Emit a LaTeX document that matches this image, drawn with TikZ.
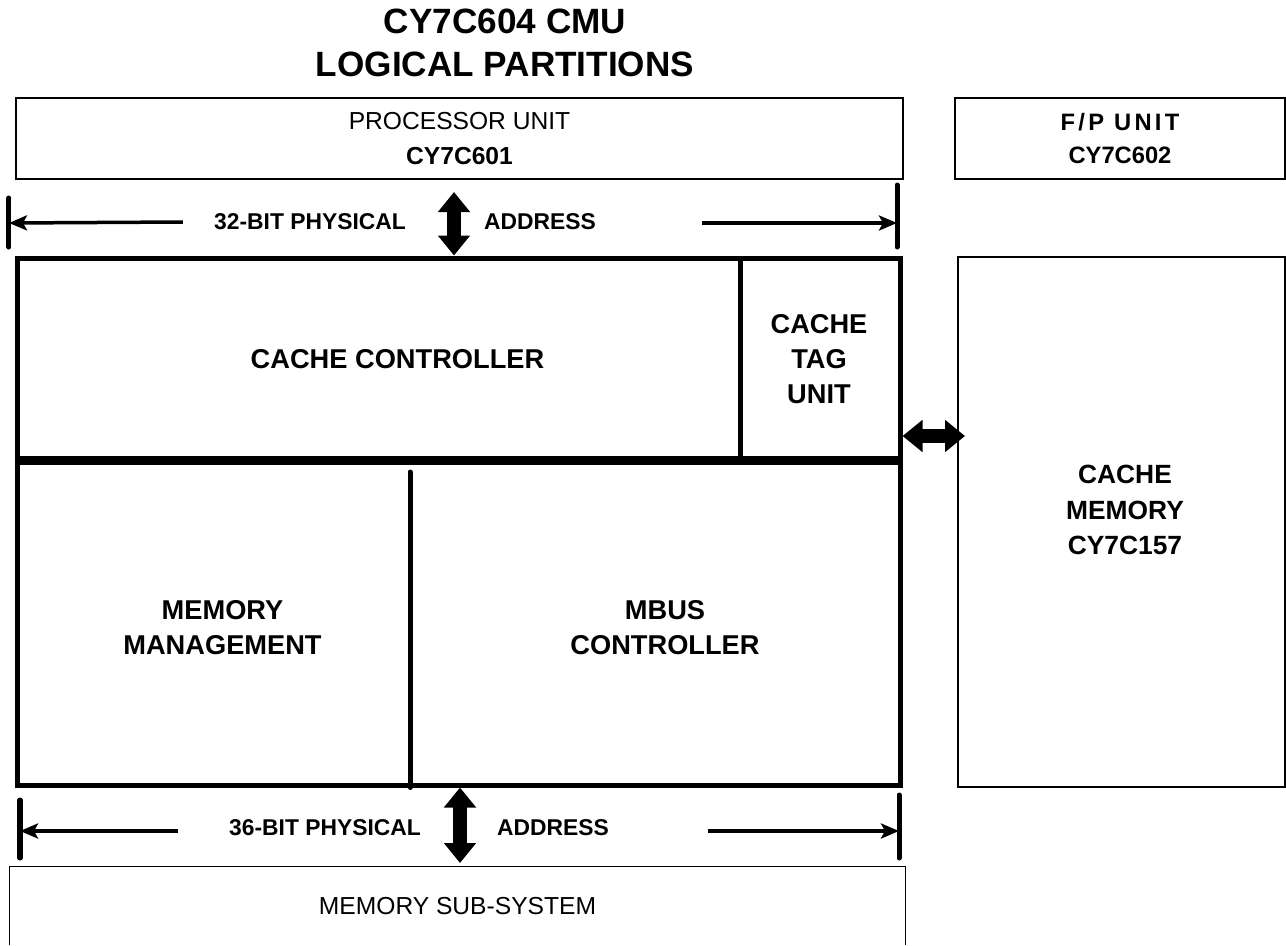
\documentclass[tikz,border=0pt]{standalone}
\usepackage{fontspec}
\setmainfont{Liberation Sans}
\newfontfamily\spacedfont{Liberation Sans}[LetterSpace=14]
\usetikzlibrary{arrows.meta}

\begin{document}
\begin{tikzpicture}[
  thinbox/.style={draw, line width=0.8pt, inner sep=0pt, align=center},
  cmubox/.style={draw, line width=0.1cm, inner sep=0pt, minimum width=17.64cm, minimum height=10.54cm},
  part/.style={align=center, font=\fontsize{15.5}{20}\selectfont\bfseries},
  titletext/.style={font=\fontsize{20}{24}\selectfont\bfseries},
  buslabel/.style={font=\fontsize{13}{15}\selectfont\bfseries},
  addr/.style={-{Stealth[length=0.36cm,width=0.3cm,inset=0.08cm]}, line width=0.07cm},
  tickline/.style={line width=0.1cm, line cap=round},
  bus/.style={{Triangle[width=0.62cm,length=0.4cm]}-{Triangle[width=0.62cm,length=0.4cm]}, line width=0.27cm},
  divider/.style={line width=0.1cm},
  hdivider/.style={line width=0.18cm}
]
\useasboundingbox (0,0) rectangle (25.72,-18.9);
% title
\node[titletext] (title) at (10.1,-0.42) {CY7C604 CMU};
\node[titletext] (subtitle) at (10.1,-1.28) {LOGICAL PARTITIONS};
% outer units
\node[thinbox, minimum width=17.74cm, minimum height=1.62cm, font=\fontsize{14}{20}\selectfont] (cpu) at (9.19,-2.77) {PROCESSOR UNIT\\\textbf{CY7C601}};
\node[thinbox, minimum width=6.6cm, minimum height=1.62cm, font=\fontsize{13.5}{19}\selectfont\bfseries] (fpu) at (22.4,-2.77) {{\spacedfont F/P UNIT}\\CY7C602};
\node[thinbox, minimum width=6.54cm, minimum height=10.6cm] (cache) at (22.43,-10.44) {};
\node[part, font=\fontsize{15}{20}\selectfont\bfseries] (cachetext) at (22.5,-10.2) {CACHE\\MEMORY\\CY7C157};
\node[minimum width=17.9cm, minimum height=1.56cm, inner sep=0pt, font=\fontsize{14}{17}\selectfont] (mem) at (9.15,-18.12) {MEMORY SUB-SYSTEM};
\draw[line width=0.8pt] (mem.south west) -- (mem.north west) -- (mem.north east) -- (mem.south east);
% cmu partitions
\node[cmubox] (cmu) at (9.18,-10.43) {};
\coordinate (tagleft) at (14.8,-9.2);
\coordinate (mbusleft) at (8.2,-9.44);
\draw[divider] (tagleft |- cmu.north) -- (tagleft);
\draw[hdivider] (cmu.west |- tagleft) -- (cmu.east |- tagleft);
\draw[divider, line cap=round] (mbusleft) -- (mbusleft |- cmu.south);
\node[part] (cc) at (7.95,-7.18) {CACHE CONTROLLER};
\node[part] (tag) at (16.38,-7.18) {CACHE\\TAG\\UNIT};
\node[part] (mmu) at (4.45,-12.56) {MEMORY\\MANAGEMENT};
\node[part] (mbus) at (13.3,-12.56) {MBUS\\CONTROLLER};
% 32-bit address
\coordinate (l32) at (0.18,-4.46);
\coordinate (r32) at (17.94,-4.46);
\draw[tickline] (0.18,-3.96) -- (0.18,-4.94);
\draw[tickline] (17.94,-3.7) -- (17.94,-4.94);
\node[buslabel] (phys32) at (6.2,-4.44) {32-BIT PHYSICAL};
\node[buslabel] (addr32) at (10.8,-4.44) {ADDRESS};
\draw[addr] ([xshift=-0.5cm]phys32.west) -- (l32);
\draw[addr] ([xshift=2cm]addr32.east |- r32) -- (r32);
\coordinate (b32) at (9.08,-3.84);
\draw[bus] (b32) -- (b32 |- cmu.north);
% 36-bit address
\coordinate (l36) at (0.4,-16.62);
\coordinate (r36) at (17.98,-16.62);
\draw[tickline] (0.4,-16.0) -- (0.4,-17.16);
\draw[tickline] (17.98,-15.9) -- (17.98,-17.16);
\node[buslabel] (phys36) at (6.5,-16.56) {36-BIT PHYSICAL};
\node[buslabel] (addr36) at (11.06,-16.56) {ADDRESS};
\draw[addr] ([xshift=-0.9cm]phys36.west |- l36) -- (l36);
\draw[addr] ([xshift=1.85cm]addr36.east |- r36) -- (r36);
\coordinate (b36) at (9.2,-17.26);
\draw[bus] (b36 |- cmu.south) -- (b36);
% cache data path
\coordinate (cdata) at (19.3,-8.72);
\draw[bus] (cdata -| cmu.east) -- (cdata);
\end{tikzpicture}
\end{document}
